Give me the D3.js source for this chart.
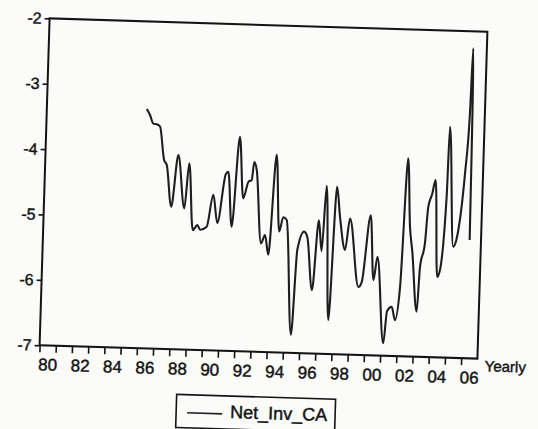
<!DOCTYPE html>
<html>
<head>
<meta charset="utf-8">
<script src="https://cdn.jsdelivr.net/npm/d3@7"></script>
<style>
  html, body { margin: 0; padding: 0; background: #fbfbfa; }
  svg { display: block; font-family: "Liberation Sans", Arial, sans-serif; }
  text { stroke: #141414; stroke-width: 0.45px; paint-order: stroke; }
</style>
</head>
<body>
<svg id="chart" width="538" height="429"></svg>
<script>
// Net_Inv_CA readings (decimal year, value)
const dates = [
  1986.16, 1986.37, 1986.59, 1986.84, 1987.01, 1987.32, 1987.50, 1987.85,
  1988.19, 1988.66, 1988.88, 1989.22, 1989.49, 1989.67, 1990.07, 1990.42,
  1990.72, 1991.15, 1991.30, 1991.61, 1991.95, 1992.27, 1992.57, 1992.76,
  1992.88, 1993.05, 1993.45, 1993.68, 1993.92, 1994.25, 1994.55, 1994.77,
  1994.99, 1995.47, 1995.70, 1996.08, 1996.29, 1996.68, 1996.97, 1997.20,
  1997.39, 1997.74, 1998.03, 1998.27, 1998.64, 1998.89, 1999.53, 1999.73,
  2000.16, 2000.45, 2000.65, 2001.17, 2001.34, 2001.62, 2001.85, 2002.10,
  2002.36, 2002.60, 2002.79, 2003.17, 2003.29, 2003.55, 2003.69, 2003.91,
  2004.09, 2004.37, 2004.53, 2004.80, 2004.87, 2005.30, 2005.50, 2005.89,
  2006.08, 2006.16, 2006.30
];
const netInvCA = [
  -3.34, -3.43, -3.56, -3.57, -3.60, -4.11, -4.19, -4.82,
  -4.03, -4.84, -4.15, -5.17, -5.09, -5.16, -5.11, -4.62,
  -5.05, -4.30, -4.26, -5.10, -3.72, -4.66, -4.40, -4.38,
  -4.10, -4.22, -5.34, -5.21, -5.51, -3.98, -5.15, -4.93,
  -4.97, -6.72, -5.42, -5.14, -5.22, -6.03, -4.96, -5.43,
  -4.43, -6.48, -4.44, -4.90, -5.40, -4.92, -5.96, -5.88,
  -4.86, -5.85, -5.49, -6.81, -6.32, -6.25, -6.45, -5.94,
  -3.97, -5.02, -5.40, -6.31, -5.63, -5.26, -4.70, -4.50,
  -4.29, -5.77, -5.66, -4.54, -3.47, -5.30, -5.17, -4.17,
  -3.25, -2.26, -5.19
];

const yTickValues = [-7, -6, -5, -4, -3, -2];
const yearTickValues = [
  1980, 1981, 1982, 1983, 1984, 1985, 1986, 1987, 1988, 1989,
  1990, 1991, 1992, 1993, 1994, 1995, 1996, 1997, 1998, 1999,
  2000, 2001, 2002, 2003, 2004, 2005, 2006
];
const labelYears = [1980, 1982, 1984, 1986, 1988, 1990, 1992, 1994, 1996, 1998, 2000, 2002, 2004, 2006];
const labelText = ["80", "82", "84", "86", "88", "90", "92", "94", "96", "98", "00", "02", "04", "06"];
const seriesName = "Net_Inv_CA";
const frequencyLabel = "Yearly";

const frame = { left: 44.5, top: 25, width: 438, height: 327 };
const ink = "#141414";

const svg = d3.select("#chart");
// the printed page sits slightly turned
const page = svg.append("g").attr("transform", "rotate(1.75,263.5,188.5)");
const plot = page.append("g").attr("transform", `translate(${frame.left},${frame.top})`);

const x = d3.scaleLinear().domain([1980, 2007]).range([0, frame.width]);
const y = d3.scaleLinear().domain([-7, -2]).range([frame.height, 0]);

// left axis
const yAxis = plot.append("g")
  .call(d3.axisLeft(y).tickValues(yTickValues).tickSize(5).tickPadding(3)
    .tickFormat(d => String(d)));
yAxis.select(".domain").remove();
yAxis.selectAll("line").attr("stroke", ink).attr("stroke-width", 1.6);
yAxis.selectAll("text").attr("font-size", 16).attr("fill", ink).attr("font-family", null);

// bottom axis: one tick per year
const xTicks = plot.append("g").attr("transform", `translate(0,${frame.height})`)
  .call(d3.axisBottom(x).tickValues(yearTickValues).tickSize(7).tickFormat(""));
xTicks.select(".domain").remove();
xTicks.selectAll("line").attr("stroke", ink).attr("stroke-width", 1.6);

// year labels centred within their year
const xLabels = plot.append("g").attr("transform", `translate(0,${frame.height})`)
  .call(d3.axisBottom(x).tickValues(labelYears.map(d => d + 0.5)).tickSize(0).tickPadding(13)
    .tickFormat((d, i) => labelText[i]));
xLabels.select(".domain").remove();
xLabels.selectAll("text").attr("font-size", 17).attr("fill", ink).attr("font-family", null);

// frame
plot.append("rect")
  .attr("x", 0).attr("y", 0).attr("width", frame.width).attr("height", frame.height)
  .attr("fill", "none").attr("stroke", ink).attr("stroke-width", 2);

// series line
const line = d3.line()
  .x((d, i) => x(dates[i]))
  .y(d => y(d))
  .curve(d3.curveMonotoneX);
plot.append("path")
  .datum(netInvCA)
  .attr("d", line)
  .attr("fill", "none")
  .attr("stroke", "#1e1e1e")
  .attr("stroke-width", 2.1)
  .attr("stroke-linejoin", "round");

// frequency note
page.append("text")
  .attr("x", 490).attr("y", 364.5)
  .attr("font-size", 15).attr("fill", ink)
  .text(frequencyLabel);

// legend
const legend = page.append("g").attr("transform", "translate(183,397)");
legend.append("rect")
  .attr("width", 159).attr("height", 33)
  .attr("fill", "none").attr("stroke", ink).attr("stroke-width", 1.6);
legend.append("line")
  .attr("x1", 11).attr("x2", 46).attr("y1", 18).attr("y2", 18)
  .attr("stroke", "#222").attr("stroke-width", 1.6);
legend.append("text")
  .attr("x", 54).attr("y", 22)
  .attr("font-size", 18).attr("fill", ink)
  .text(seriesName);
</script>
</body>
</html>
